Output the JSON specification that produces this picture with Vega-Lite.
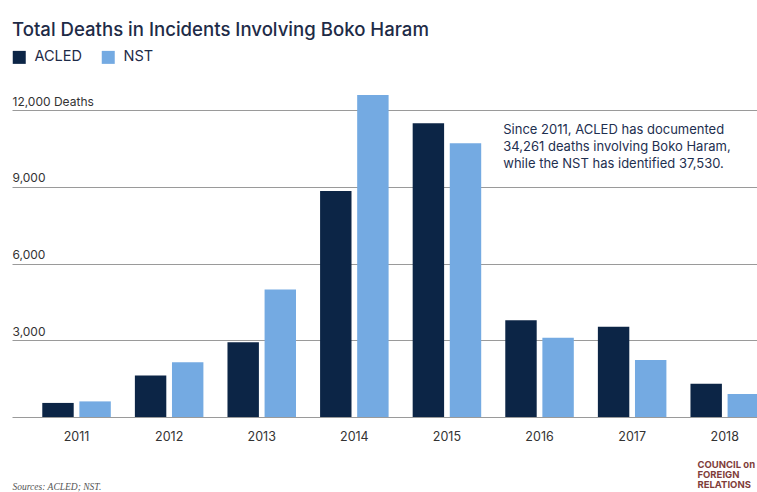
{
  "$schema": "https://vega.github.io/schema/vega-lite/v6.json",
  "width": 745,
  "height": 307,
  "autosize": "none",
  "padding": {"left": 12, "top": 110, "right": 0, "bottom": 75},
  "background": "white",
  "title": {
    "text": "Total Deaths in Incidents Involving Boko Haram",
    "anchor": "start",
    "frame": "group",
    "font": "Inter",
    "fontSize": 18.6,
    "fontWeight": 500,
    "color": "#1e2b47",
    "offset": 10
  },
  "config": {
    "view": {"stroke": null},
    "font": "Inter"
  },
  "data": {
    "values": [
      {"year": "2011", "source": "ACLED", "deaths": 550},
      {"year": "2011", "source": "NST", "deaths": 610},
      {"year": "2012", "source": "ACLED", "deaths": 1620},
      {"year": "2012", "source": "NST", "deaths": 2140},
      {"year": "2013", "source": "ACLED", "deaths": 2920},
      {"year": "2013", "source": "NST", "deaths": 4980},
      {"year": "2014", "source": "ACLED", "deaths": 8830},
      {"year": "2014", "source": "NST", "deaths": 12590},
      {"year": "2015", "source": "ACLED", "deaths": 11480},
      {"year": "2015", "source": "NST", "deaths": 10700},
      {"year": "2016", "source": "ACLED", "deaths": 3780},
      {"year": "2016", "source": "NST", "deaths": 3100},
      {"year": "2017", "source": "ACLED", "deaths": 3530},
      {"year": "2017", "source": "NST", "deaths": 2230},
      {"year": "2018", "source": "ACLED", "deaths": 1300},
      {"year": "2018", "source": "NST", "deaths": 900}
    ]
  },
  "layer": [
    {
      "mark": {"type": "bar"},
      "encoding": {
        "x": {
          "field": "year",
          "type": "nominal",
          "scale": {"range": [0, 747], "paddingInner": 0.26, "paddingOuter": 0.1635, "align": 1},
          "axis": {
            "title": "Sources: ACLED; NST.",
            "titleFont": "Liberation Serif",
            "titleFontStyle": "italic",
            "titleFontWeight": "normal",
            "titleFontSize": 9.5,
            "titleColor": "#555555",
            "titleAnchor": "start",
            "titleAlign": "left",
            "titleBaseline": "middle",
            "titleX": 0,
            "titleY": 69,
            "labelAngle": 0,
            "labelFont": "Inter",
            "labelFontSize": 12.5,
            "labelColor": "#333333",
            "labelPadding": 13,
            "ticks": false,
            "tickSize": 0,
            "domain": false
          }
        },
        "xOffset": {"field": "source", "scale": {"paddingInner": 0.153, "paddingOuter": 0}},
        "y": {
          "field": "deaths",
          "type": "quantitative",
          "scale": {"domain": [0, 12000], "nice": false},
          "axis": {
            "title": null,
            "values": [0, 3000, 6000, 9000, 12000],
            "labelExpr": "datum.value == 0 ? '' : (datum.value == 12000 ? '12,000 Deaths' : datum.label)",
            "labelAlign": "left",
            "labelBaseline": "alphabetic",
            "labelOffset": -5,
            "labelPadding": 0,
            "labelFont": "Inter",
            "labelFontSize": 12,
            "labelColor": "#333333",
            "ticks": false,
            "tickSize": 0,
            "domain": false,
            "grid": true,
            "gridColor": "#9a9a9a",
            "gridWidth": 1
          }
        },
        "color": {
          "field": "source",
          "type": "nominal",
          "scale": {"domain": ["ACLED", "NST"], "range": ["#0c2546", "#74aae2"]},
          "legend": {
            "title": null,
            "orient": "none",
            "legendX": 0,
            "legendY": -60,
            "direction": "horizontal",
            "symbolType": "square",
            "symbolSize": 169,
            "symbolStrokeWidth": 0,
            "labelFont": "Inter",
            "labelFontSize": 14.5,
            "labelColor": "#1e2b47",
            "labelOffset": 8,
            "columnPadding": 19,
            "padding": 0
          }
        }
      }
    },
    {
      "data": {"values": [{}]},
      "mark": {
        "type": "text",
        "align": "left",
        "baseline": "top",
        "fontSize": 13,
        "font": "Inter",
        "color": "#1e2f50",
        "lineHeight": 17,
        "dx": -2
      },
      "encoding": {
        "x": {"datum": "2016", "bandPosition": 0},
        "y": {"datum": 11450},
        "text": {"value": ["Since 2011, ACLED has documented", "34,261 deaths involving Boko Haram,", "while the NST has identified 37,530."]}
      }
    },
    {
      "data": {"values": [{}]},
      "mark": {
        "type": "text",
        "align": "left",
        "baseline": "top",
        "fontSize": 9.5,
        "font": "Inter",
        "fontWeight": "bold",
        "color": "#7f3d3a",
        "lineHeight": 10,
        "dx": 7
      },
      "encoding": {
        "x": {"datum": "2018", "bandPosition": 0},
        "y": {"datum": -1700},
        "text": {"value": ["COUNCIL on", "FOREIGN", "RELATIONS"]}
      }
    }
  ]
}
